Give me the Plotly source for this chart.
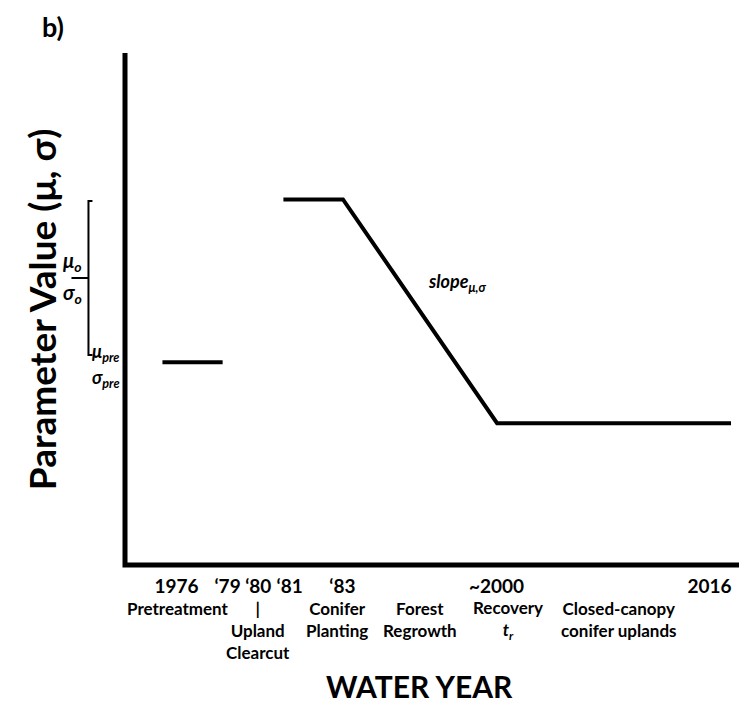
import plotly.graph_objects as go

# Schematic x positions (arbitrary units 0-100 along the water-year axis)
pre_x = [6.1, 15.9]
pre_y = [39.6, 39.6]
post_x = [25.8, 35.5, 60.6, 98.7]
post_y = [71.4, 71.4, 27.7, 27.7]

year_pos = [8.4, 16.7, 21.7, 26.8, 35.4, 60.5, 95.2]
year_labels = ["1976", "\u201879", "\u201880", "\u201881", "\u201883", "~2000", "2016"]

period_labels = ["Pretreatment", "|<br>Upland<br>Clearcut", "Conifer<br>Planting",
                 "Forest<br>Regrowth", "Recovery<br><i>t<sub>r</sub></i>",
                 "Closed-canopy<br>conifer uplands"]
period_x = [8.6, 21.6, 34.6, 48.0, 62.3, 80.5]

FONT = "Lato"

fig = go.Figure()
fig.add_trace(go.Scatter(x=pre_x, y=pre_y, mode="lines",
                         line=dict(color="black", width=4), showlegend=False))
fig.add_trace(go.Scatter(x=post_x, y=post_y, mode="lines",
                         line=dict(color="black", width=4), showlegend=False))

ann = []
period_paper_y = [-0.084, -0.127, -0.107, -0.107, -0.107, -0.107]
for lbl, x, y in zip(period_labels, period_x, period_paper_y):
    ann.append(dict(x=x, y=y, xref="x", yref="paper", text="<b>" + lbl + "</b>",
                    showarrow=False,
                    font=dict(family=FONT, size=17, color="black"),
                    xanchor="center", yanchor="middle", align="center"))

ann.append(dict(x=54.2, y=55.1, xref="x", yref="y",
                text="<b><i>slope<sub>\u03bc,\u03c3</sub></i></b>", showarrow=False,
                xanchor="center", yanchor="middle",
                font=dict(family=FONT, size=18, color="black")))

# y title
ann.append(dict(x=-0.1365, y=0.5, xref="paper", yref="paper",
                text="<b>Parameter Value (\u03bc, \u03c3)</b>", textangle=-90,
                xanchor="center", yanchor="middle",
                showarrow=False, font=dict(family=FONT, size=37, color="black")))
# x title
ann.append(dict(x=0.48, y=-0.236, xref="paper", yref="paper",
                text="<b>WATER YEAR</b>", showarrow=False,
                xanchor="center", yanchor="middle",
                font=dict(family=FONT, size=30, color="black")))
# panel label
ann.append(dict(x=-0.118, y=1.051, xref="paper", yref="paper",
                text="<b>b)</b>", showarrow=False,
                xanchor="center", yanchor="middle",
                font=dict(family=FONT, size=27, color="black")))

# bracket labels
for txt, x, y, s in [("<b><i>\u03bc</i></b><sub><b><i>o</i></b></sub>", -0.0856, 0.592, 20),
                     ("<b><i>\u03c3</i></b><sub><b><i>o</i></b></sub>", -0.0856, 0.531, 20),
                     ("<b><i>\u03bc</i></b><sub><b><i>pre</i></b></sub>", -0.031, 0.416, 18),
                     ("<b><i>\u03c3</i></b><sub><b><i>pre</i></b></sub>", -0.031, 0.364, 18)]:
    ann.append(dict(x=x, y=y, xref="paper", yref="paper", text=txt,
                    showarrow=False, font=dict(family=FONT, size=s, color="black"),
                    xanchor="center", yanchor="middle"))

shapes = [
    dict(type="path", xref="paper", yref="paper", path="M 0,1 L 0,0 L 1,0",
         line=dict(color="black", width=5)),
    dict(type="path", xref="paper", yref="paper",
         path="M -0.053,0.711 L -0.0595,0.711 L -0.0595,0.410 L -0.053,0.410",
         line=dict(color="black", width=2)),
    dict(type="line", xref="paper", yref="paper", x0=-0.0872, x1=-0.0595,
         y0=0.5605, y1=0.5605, line=dict(color="black", width=2)),
]

fig.update_layout(
    width=744, height=705,
    margin=dict(l=125, r=5, t=53, b=140),
    paper_bgcolor="white", plot_bgcolor="white",
    xaxis=dict(range=[0, 100], showgrid=False, zeroline=False, showline=False,
               tickmode="array", tickvals=year_pos, ticktext=year_labels,
               ticks="", ticklabelstandoff=8,
               tickfont=dict(family=FONT, size=19, color="black", weight="bold")),
    yaxis=dict(range=[0, 100], showgrid=False, zeroline=False, showline=False,
               showticklabels=False, ticks=""),
    annotations=ann, shapes=shapes,
)

fig.write_html("out.html")
